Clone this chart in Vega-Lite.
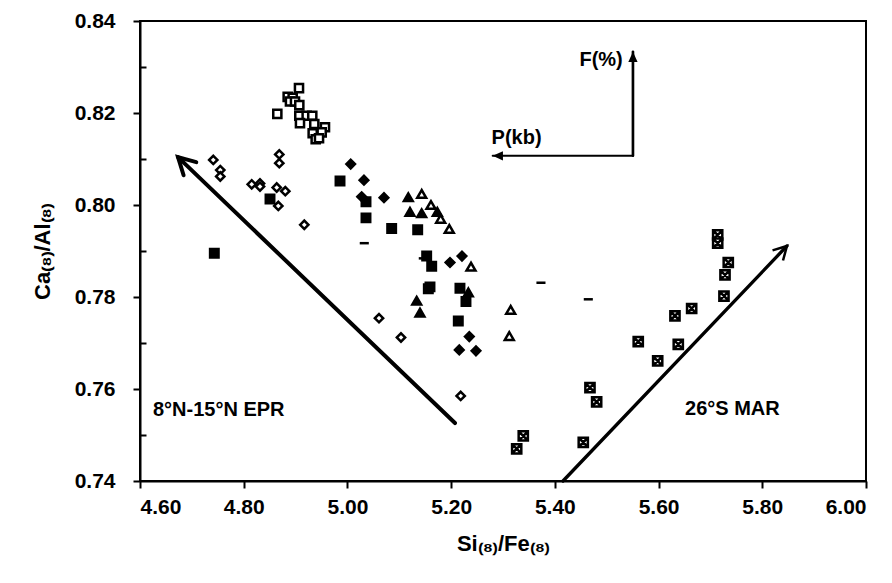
{
  "$schema": "https://vega.github.io/schema/vega-lite/v6.json",
  "width": 726,
  "height": 460,
  "autosize": "none",
  "padding": {"left": 140, "top": 21, "right": 26, "bottom": 102},
  "background": "white",
  "config": {
    "view": {"stroke": "black", "strokeWidth": 2},
    "axis": {
      "domainColor": "black", "domainWidth": 2,
      "tickColor": "black", "tickWidth": 2,
      "labelFont": "Liberation Sans", "labelFontWeight": "bold", "labelFontSize": 21, "labelColor": "black",
      "titleFont": "Liberation Sans", "titleFontWeight": "bold", "titleFontSize": 22, "titleColor": "black",
      "grid": false
    },
    "text": {"font": "Liberation Sans", "fontWeight": "bold", "fontSize": 20, "color": "black"}
  },
  "datasets": {
    "pts": [
      {"x": 4.9066, "y": 0.8254, "t": "osq"},
      {"x": 4.8848, "y": 0.8235, "t": "osq"},
      {"x": 4.8944, "y": 0.8233, "t": "osq"},
      {"x": 4.8892, "y": 0.8225, "t": "osq"},
      {"x": 4.8989, "y": 0.8225, "t": "osq"},
      {"x": 4.9072, "y": 0.8217, "t": "osq"},
      {"x": 4.8648, "y": 0.8198, "t": "osq"},
      {"x": 4.9072, "y": 0.8194, "t": "osq"},
      {"x": 4.9214, "y": 0.8194, "t": "osq"},
      {"x": 4.9322, "y": 0.8194, "t": "osq"},
      {"x": 4.9085, "y": 0.8178, "t": "osq"},
      {"x": 4.9361, "y": 0.8176, "t": "osq"},
      {"x": 4.9567, "y": 0.8169, "t": "osq"},
      {"x": 4.9504, "y": 0.8158, "t": "osq"},
      {"x": 4.9330, "y": 0.8156, "t": "osq"},
      {"x": 4.9388, "y": 0.8143, "t": "osq"},
      {"x": 4.9452, "y": 0.8145, "t": "osq"},
      {"x": 4.7413, "y": 0.8098, "t": "odia"},
      {"x": 4.7548, "y": 0.8076, "t": "odia"},
      {"x": 4.7548, "y": 0.8062, "t": "odia"},
      {"x": 4.8686, "y": 0.8110, "t": "odia"},
      {"x": 4.8686, "y": 0.8091, "t": "odia"},
      {"x": 4.8154, "y": 0.8045, "t": "odia"},
      {"x": 4.8314, "y": 0.8047, "t": "odia"},
      {"x": 4.8314, "y": 0.8040, "t": "odia"},
      {"x": 4.8636, "y": 0.8038, "t": "odia"},
      {"x": 4.8802, "y": 0.8030, "t": "odia"},
      {"x": 4.8667, "y": 0.7998, "t": "odia"},
      {"x": 4.9168, "y": 0.7957, "t": "odia"},
      {"x": 5.0609, "y": 0.7754, "t": "odia"},
      {"x": 5.1033, "y": 0.7712, "t": "odia"},
      {"x": 5.2184, "y": 0.7585, "t": "odia"},
      {"x": 4.8507, "y": 0.8013, "t": "fsq"},
      {"x": 4.7433, "y": 0.7895, "t": "fsq"},
      {"x": 4.9857, "y": 0.8052, "t": "fsq"},
      {"x": 5.0358, "y": 0.8007, "t": "fsq"},
      {"x": 5.0358, "y": 0.7972, "t": "fsq"},
      {"x": 5.0853, "y": 0.7949, "t": "fsq"},
      {"x": 5.1355, "y": 0.7946, "t": "fsq"},
      {"x": 5.1528, "y": 0.7889, "t": "fsq"},
      {"x": 5.1625, "y": 0.7867, "t": "fsq"},
      {"x": 5.1592, "y": 0.7822, "t": "fsq"},
      {"x": 5.1560, "y": 0.7818, "t": "fsq"},
      {"x": 5.2170, "y": 0.7819, "t": "fsq"},
      {"x": 5.2286, "y": 0.7790, "t": "fsq"},
      {"x": 5.2138, "y": 0.7748, "t": "fsq"},
      {"x": 5.0063, "y": 0.8089, "t": "fdia"},
      {"x": 5.0275, "y": 0.8018, "t": "fdia"},
      {"x": 5.0319, "y": 0.8054, "t": "fdia"},
      {"x": 5.0705, "y": 0.8016, "t": "fdia"},
      {"x": 5.1978, "y": 0.7875, "t": "fdia"},
      {"x": 5.2209, "y": 0.7889, "t": "fdia"},
      {"x": 5.2350, "y": 0.7714, "t": "fdia"},
      {"x": 5.2157, "y": 0.7685, "t": "fdia"},
      {"x": 5.2479, "y": 0.7683, "t": "fdia"},
      {"x": 5.1174, "y": 0.8017, "t": "ftri"},
      {"x": 5.1206, "y": 0.7985, "t": "ftri"},
      {"x": 5.1432, "y": 0.7982, "t": "ftri"},
      {"x": 5.1733, "y": 0.7985, "t": "ftri"},
      {"x": 5.2331, "y": 0.7810, "t": "ftri"},
      {"x": 5.1336, "y": 0.7792, "t": "ftri"},
      {"x": 5.1399, "y": 0.7766, "t": "ftri"},
      {"x": 5.1432, "y": 0.8024, "t": "otri"},
      {"x": 5.1611, "y": 0.8000, "t": "otri"},
      {"x": 5.1798, "y": 0.7970, "t": "otri"},
      {"x": 5.1964, "y": 0.7948, "t": "otri"},
      {"x": 5.2383, "y": 0.7866, "t": "otri"},
      {"x": 5.3148, "y": 0.7772, "t": "otri"},
      {"x": 5.3121, "y": 0.7715, "t": "otri"},
      {"x": 5.0325, "y": 0.7917, "t": "dash"},
      {"x": 5.1463, "y": 0.7884, "t": "dash"},
      {"x": 5.3732, "y": 0.7831, "t": "dash"},
      {"x": 5.4645, "y": 0.7795, "t": "dash"},
      {"x": 5.7140, "y": 0.7935, "t": "xsq"},
      {"x": 5.7140, "y": 0.7917, "t": "xsq"},
      {"x": 5.7344, "y": 0.7875, "t": "xsq"},
      {"x": 5.7281, "y": 0.7848, "t": "xsq"},
      {"x": 5.7261, "y": 0.7802, "t": "xsq"},
      {"x": 5.6638, "y": 0.7775, "t": "xsq"},
      {"x": 5.6316, "y": 0.7759, "t": "xsq"},
      {"x": 5.5608, "y": 0.7703, "t": "xsq"},
      {"x": 5.6380, "y": 0.7697, "t": "xsq"},
      {"x": 5.5983, "y": 0.7661, "t": "xsq"},
      {"x": 5.4677, "y": 0.7603, "t": "xsq"},
      {"x": 5.4806, "y": 0.7572, "t": "xsq"},
      {"x": 5.3391, "y": 0.7498, "t": "xsq"},
      {"x": 5.3264, "y": 0.7470, "t": "xsq"},
      {"x": 5.4548, "y": 0.7484, "t": "xsq"}
    ],
    "arrows": [
      {"a": "EPR", "x": 5.2074, "y": 0.7526, "x2": 4.6733, "y2": 0.8104},
      {"a": "MAR", "x": 5.4157, "y": 0.7400, "x2": 5.8476, "y2": 0.7911},
      {"a": "F", "x": 5.5506, "y": 0.8107, "x2": 5.5506, "y2": 0.8333},
      {"a": "P", "x": 5.5506, "y": 0.8107, "x2": 5.2801, "y2": 0.8107}
    ],
    "labels": [
      {"x": 4.625, "y": 0.7554, "text": "8°N-15°N EPR", "side": "left"},
      {"x": 5.651, "y": 0.7557, "text": "26°S MAR", "side": "left"},
      {"x": 5.531, "y": 0.8315, "text": "F(%)", "side": "right"},
      {"x": 5.278, "y": 0.8146, "text": "P(kb)", "side": "left"}
    ]
  },
  "layer": [
    {
      "data": {"name": "arrows"},
      "mark": {"type": "rule", "color": "black", "strokeCap": "round"},
      "encoding": {
        "x": {"field": "x", "type": "quantitative", "scale": {"domain": [4.6, 6.0], "nice": false, "zero": false},
          "axis": {"values": [4.6, 4.8, 5.0, 5.2, 5.4, 5.6, 5.8, 6.0], "format": ".2f", "tickSize": 7, "labelPadding": 8,
            "title": "Si₍₈₎/Fe₍₈₎", "titlePadding": 16}},
        "y": {"field": "y", "type": "quantitative", "scale": {"domain": [0.74, 0.84], "nice": false, "zero": false},
          "axis": {"values": [0.74, 0.75, 0.76, 0.77, 0.78, 0.79, 0.8, 0.81, 0.82, 0.83, 0.84],
            "labelExpr": "round(datum.value*100) % 2 == 0 ? format(datum.value, '.2f') : ''",
            "tickSize": {"condition": {"test": "round(datum.value*100) % 2 == 0", "value": 7}, "value": -6},
            "labelPadding": 18, "title": "Ca₍₈₎/Al₍₈₎", "titlePadding": 20}},
        "x2": {"field": "x2"},
        "y2": {"field": "y2"},
        "strokeWidth": {"field": "a", "type": "nominal", "scale": {"domain": ["EPR", "MAR", "F", "P"], "range": [4, 2, 2, 2]}, "legend": null}
      }
    },
    {
      "data": {"name": "arrows"},
      "transform": [{"filter": "datum.a == 'EPR'"}],
      "mark": {"type": "point", "shape": "M -0.55 1 L 0 0 L 0.55 1", "filled": false, "stroke": "black", "strokeWidth": 4, "size": 1100, "angle": 314, "opacity": 1, "strokeCap": "round", "strokeJoin": "miter"},
      "encoding": {"x": {"field": "x2", "type": "quantitative"}, "y": {"field": "y2", "type": "quantitative"}}
    },
    {
      "data": {"name": "arrows"},
      "transform": [{"filter": "datum.a == 'MAR'"}],
      "mark": {"type": "point", "shape": "M -0.55 1 L 0 0 L 0.55 1", "filled": false, "stroke": "black", "strokeWidth": 2.5, "size": 700, "angle": 44, "opacity": 1, "strokeJoin": "miter"},
      "encoding": {"x": {"field": "x2", "type": "quantitative"}, "y": {"field": "y2", "type": "quantitative"}}
    },
    {
      "data": {"name": "arrows"},
      "transform": [{"filter": "datum.a == 'F'"}],
      "mark": {"type": "point", "shape": "M 0 0 L 0.45 1 L -0.45 1 Z", "filled": true, "fill": "black", "size": 420, "angle": 0, "opacity": 1},
      "encoding": {"x": {"field": "x2", "type": "quantitative"}, "y": {"field": "y2", "type": "quantitative"}}
    },
    {
      "data": {"name": "arrows"},
      "transform": [{"filter": "datum.a == 'P'"}],
      "mark": {"type": "point", "shape": "M 0 0 L 0.45 1 L -0.45 1 Z", "filled": true, "fill": "black", "size": 420, "angle": 270, "opacity": 1},
      "encoding": {"x": {"field": "x2", "type": "quantitative"}, "y": {"field": "y2", "type": "quantitative"}}
    },
    {
      "data": {"name": "pts"},
      "mark": {"type": "point", "filled": true, "stroke": "black", "strokeWidth": 2.5, "opacity": 1},
      "encoding": {
        "x": {"field": "x", "type": "quantitative"},
        "y": {"field": "y", "type": "quantitative"},
        "shape": {"field": "t", "type": "nominal", "legend": null,
          "scale": {"domain": ["osq", "odia", "fsq", "fdia", "ftri", "otri", "dash", "xsq"],
            "range": ["square", "diamond", "square", "diamond", "triangle-up", "triangle-up", "M -1 0 L 1 0", "M -1 -1 L 1 -1 L 1 1 L -1 1 Z M -1 -1 L 1 1 M 1 -1 L -1 1"]}},
        "fill": {"field": "t", "type": "nominal", "legend": null,
          "scale": {"domain": ["osq", "odia", "fsq", "fdia", "ftri", "otri", "dash", "xsq"],
            "range": ["white", "white", "black", "black", "black", "white", "black", "white"]}},
        "size": {"field": "t", "type": "nominal", "legend": null,
          "scale": {"domain": ["osq", "odia", "fsq", "fdia", "ftri", "otri", "dash", "xsq"],
            "range": [66, 85, 56, 100, 90, 90, 80, 160]}}
      }
    },
    {
      "data": {"name": "labels"},
      "transform": [{"filter": "datum.side == 'left'"}],
      "mark": {"type": "text", "baseline": "middle", "align": "left"},
      "encoding": {
        "x": {"field": "x", "type": "quantitative"},
        "y": {"field": "y", "type": "quantitative"},
        "text": {"field": "text"}
      }
    },
    {
      "data": {"name": "labels"},
      "transform": [{"filter": "datum.side == 'right'"}],
      "mark": {"type": "text", "baseline": "middle", "align": "right"},
      "encoding": {
        "x": {"field": "x", "type": "quantitative"},
        "y": {"field": "y", "type": "quantitative"},
        "text": {"field": "text"}
      }
    }
  ]
}
